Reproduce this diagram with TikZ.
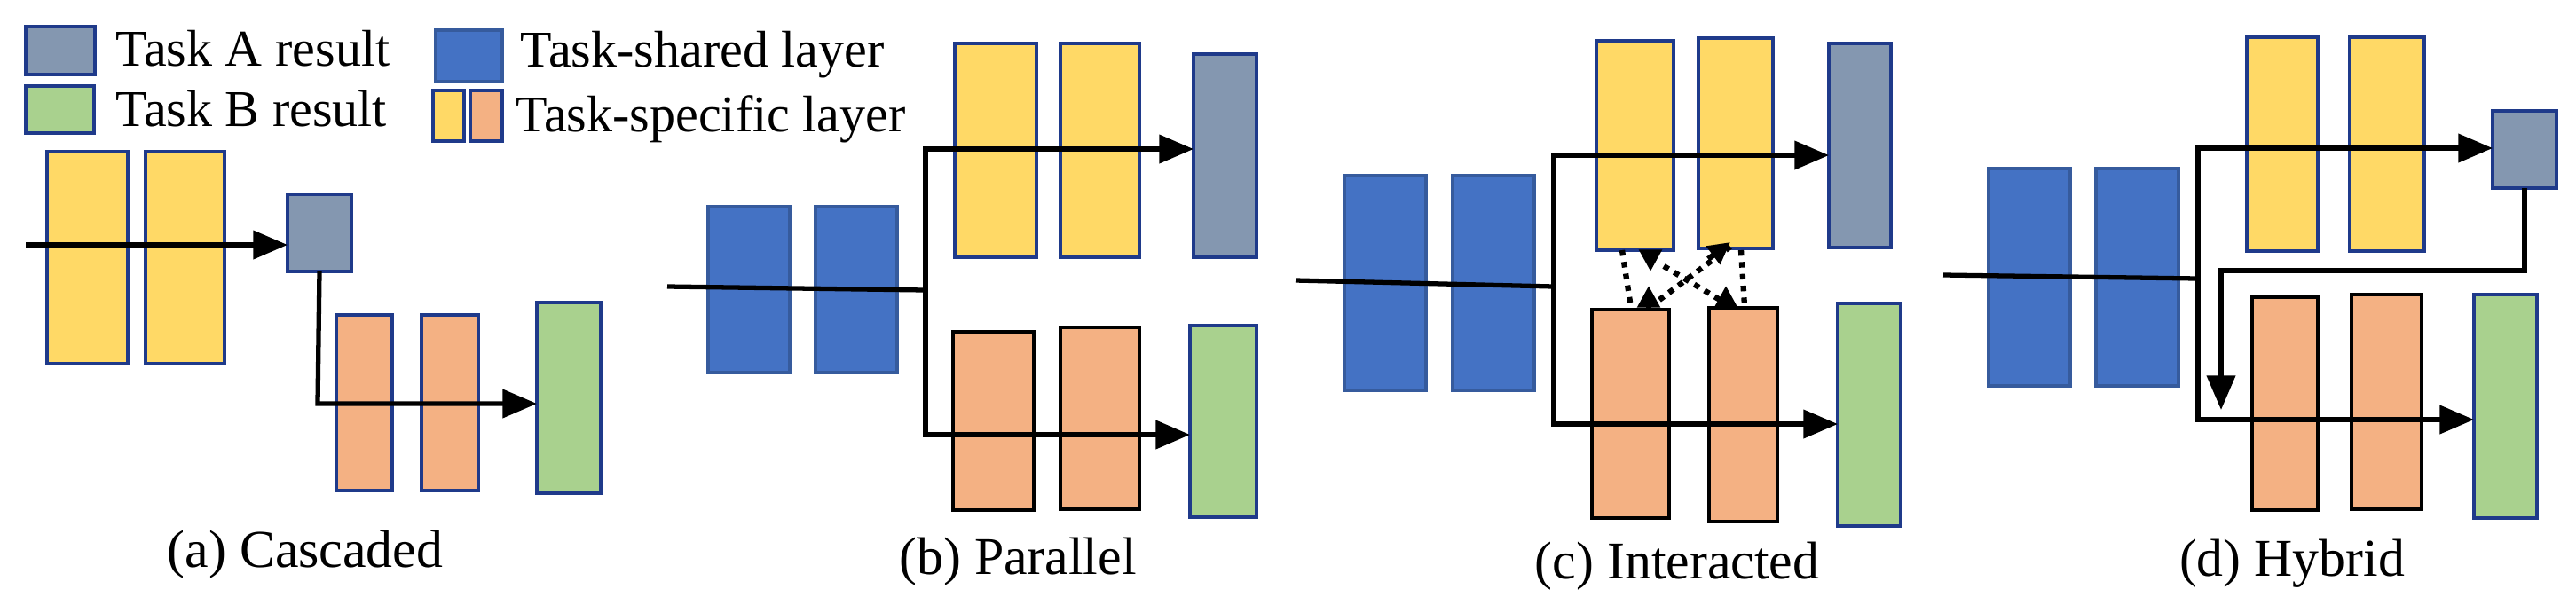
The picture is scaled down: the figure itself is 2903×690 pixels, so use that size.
\documentclass[tikz,border=0pt]{standalone}
\usepackage{fontspec}
\setmainfont{Liberation Serif}
\usetikzlibrary{arrows.meta}
\definecolor{cy}{HTML}{FFD966}
\definecolor{co}{HTML}{F4B183}
\definecolor{cb}{HTML}{4472C4}
\definecolor{cg}{HTML}{8497B0}
\definecolor{cgr}{HTML}{A9D18E}
\definecolor{bd}{HTML}{1F3A8A}
\newcommand\bx[6]{\node[#2,minimum width={(#5-#3)*0.01cm},minimum height={(#6-#4)*0.01cm}] (#1) at ({(#3+#5)/2},{(#4+#6)/2}) {};}
\begin{document}
\begin{tikzpicture}[x=0.01cm,y=-0.01cm,
  box/.style={draw=bd,line width=0.9pt,inner sep=0pt,outer sep=0pt},
  Y/.style={box,fill=cy}, O/.style={box,fill=co}, OK/.style={box,fill=co,draw=black,line width=1.1pt},
  B/.style={box,fill=cb,draw=cb!80!black}, G/.style={box,fill=cg}, GR/.style={box,fill=cgr},
  ln/.style={line width=1.5pt},
  arr/.style={ln,-{Triangle[length=11pt,width=9pt]}},
  dt/.style={line width=1.8pt,dotted},
  dtip/.style={line width=1.8pt,-{Triangle[length=7pt,width=7pt]}},
  txt/.style={font=\fontsize{16.5}{20}\selectfont,anchor=west,inner sep=0pt},
  captxt/.style={font=\fontsize{17}{20}\selectfont,inner sep=0pt}]
\useasboundingbox (0,0) rectangle (2903,690);
% legend
\bx{lA}{G}{29}{30}{107}{84}
\bx{lB}{GR}{29}{97}{106}{150}
\bx{lS}{B}{491}{34}{566}{92}
\bx{lY}{Y}{488}{102}{523}{159}
\bx{lO}{O}{530}{102}{566}{159}
\node[txt] (tA) at (130,55) {Task A result};
\node[txt] (tB) at (130,123) {Task B result};
\node[txt] (tS) at (586,62) {Task-shared layer};
\node[txt] (tP) at (581,134) {Task-specific layer};
% (a)
\bx{ay1}{Y}{53}{171}{144}{410}
\bx{ay2}{Y}{164}{171}{253}{410}
\bx{ag}{G}{324}{219}{396}{306}
\bx{ao1}{O}{379}{355}{442}{553}
\bx{ao2}{O}{475}{355}{539}{553}
\bx{agr}{GR}{605}{341}{677}{556}
\coordinate (ain) at (29,276);
\coordinate (ac) at (358,455);
\draw[arr] (ain) -- (ain -| ag.west);
\draw[arr] (ag.south) -- (ac) -- (ac -| agr.west);
\node[captxt] (capa) at (344,625) {(a) Cascaded};
% (b)
\bx{bb1}{B}{798}{233}{890}{420}
\bx{bb2}{B}{919}{233}{1011}{420}
\bx{by1}{Y}{1076}{49}{1168}{290}
\bx{by2}{Y}{1195}{49}{1284}{290}
\bx{bg}{G}{1345}{61}{1416}{290}
\bx{bo1}{OK}{1074}{374}{1165}{575}
\bx{bo2}{OK}{1195}{369}{1284}{574}
\bx{bgr}{GR}{1341}{367}{1416}{583}
\coordinate (bin) at (752,323);
\coordinate (bj) at (1043,327);
\coordinate (bt) at (1043,168);
\coordinate (bbt) at (1043,490);
\draw[ln] (bin) -- (bj);
\draw[arr] (bj) -- (bt) -- (bt -| bg.west);
\draw[arr] (bj) -- (bbt) -- (bbt -| bgr.west);
\node[captxt] (capb) at (1147,633) {(b) Parallel};
% (c)
\bx{cb1}{B}{1515}{198}{1607}{440}
\bx{cb2}{B}{1637}{198}{1729}{440}
\bx{cy1}{Y}{1799}{46}{1886}{282}
\bx{cy2}{Y}{1914}{43}{1998}{280}
\bx{cg}{G}{2061}{49}{2131}{279}
\bx{co1}{OK}{1794}{349}{1881}{584}
\bx{co2}{OK}{1926}{347}{2003}{588}
\bx{cgr}{GR}{2071}{342}{2142}{593}
\coordinate (cin) at (1460,316);
\coordinate (cj) at (1751,323);
\coordinate (ct) at (1751,175);
\coordinate (cbt) at (1751,478);
\draw[ln] (cin) -- (cj);
\draw[arr] (cj) -- (ct) -- (ct -| cg.west);
\draw[arr] (cj) -- (cbt) -- (cbt -| cgr.west);
\coordinate (d1) at (1828,282); \coordinate (d2) at (1838,347);
\coordinate (d3) at (1962,282); \coordinate (d4) at (1966,345);
\draw[dt] (d1) -- (d2);
\draw[dt] (d3) -- (d4);
\draw[dt] (1870,338) -- (1950,278);
\draw[dt] (1875,300) -- (1945,342);
\draw[dtip] (1860,283) -- (1860,306);
\draw[dtip] (1858,347) -- (1858,322);
\draw[dtip] (1925,292) -- (1950,273);
\draw[dtip] (1945,347) -- (1945,322);
\node[captxt] (capc) at (1890,638) {(c) Interacted};
% (d)
\bx{db1}{B}{2241}{190}{2333}{435}
\bx{db2}{B}{2362}{190}{2455}{435}
\bx{dy1}{Y}{2532}{42}{2612}{283}
\bx{dy2}{Y}{2648}{42}{2732}{283}
\bx{dg}{G}{2809}{125}{2881}{212}
\bx{do1}{OK}{2538}{335}{2612}{575}
\bx{do2}{OK}{2650}{332}{2729}{574}
\bx{dgr}{GR}{2788}{332}{2859}{584}
\coordinate (din) at (2190,310);
\coordinate (dj) at (2477,314);
\coordinate (dt) at (2477,167);
\coordinate (dbt) at (2477,473);
\coordinate (dk) at (2845,305);
\coordinate (dl) at (2503,305);
\coordinate (dm) at (2503,462);
\draw[ln] (din) -- (dj);
\draw[arr] (dj) -- (dt) -- (dt -| dg.west);
\draw[arr] (dj) -- (dbt) -- (dbt -| dgr.west);
\draw[arr] (dg.south) -- (dk) -- (dl) -- (dm);
\node[captxt] (capd) at (2583,635) {(d) Hybrid};
\end{tikzpicture}
\end{document}
